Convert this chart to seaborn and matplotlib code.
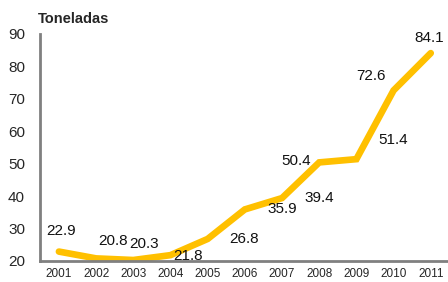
import numpy as np
import pandas as pd
import matplotlib
matplotlib.use('Agg')
import matplotlib.pyplot as plt
import seaborn as sns

# data
years = ['2001', '2002', '2003', '2004', '2005', '2006', '2007', '2008', '2009', '2010', '2011']
toneladas = [22.9, 20.8, 20.3, 21.8, 26.8, 35.9, 39.4, 50.4, 51.4, 72.6, 84.1]
y_ticks = [20, 30, 40, 50, 60, 70, 80, 90]

# label offsets in pixels (as placed in the original)
label_offsets = [(2, 21), (17, 17), (11, 16), (18, -1), (36, 0), (37, 0),
                 (37, 0), (-23, 1), (37, 19), (-23, 14), (-2, 15)]

sns.set_style('white')
plt.rcParams['font.family'] = ['Liberation Sans', 'DejaVu Sans']

df = pd.DataFrame({'pos': np.arange(len(years)), 'val': toneladas})

fig = plt.figure(figsize=(4.48, 2.82), dpi=100)
ax = fig.add_axes([0.09, 0.0745, 0.913, 0.805])

sns.lineplot(data=df, x='pos', y='val', color='#FFC000', linewidth=4.8,
             solid_capstyle='round', solid_joinstyle='miter', ax=ax)

for i, v in enumerate(toneladas):
    dx, dy = label_offsets[i]
    ax.annotate(f'{v:.1f}', (i, v), xytext=(dx, dy), textcoords='offset pixels',
                ha='center', va='center', fontsize=11, color='#111111')

ax.set_xlim(-0.5, len(years) - 0.5)
ax.set_ylim(20, 90)
ax.set_yticks(y_ticks)
ax.set_xticks(range(len(years)))
ax.set_xticklabels(years, fontsize=8.5)
ax.set_xticks(np.arange(-0.5, len(years), 1), minor=True)
ax.tick_params(axis='x', which='major', length=0, pad=5)
ax.tick_params(axis='x', which='minor', length=4, width=1.5, color='#808080', direction='out')
ax.tick_params(axis='y', length=4, width=1.5, color='#808080', direction='out', labelsize=11, pad=7)
ax.set_xlabel('')
ax.set_ylabel('')

for s in ['top', 'right']:
    ax.spines[s].set_visible(False)
for s in ['left', 'bottom']:
    ax.spines[s].set_color('#808080')
    ax.spines[s].set_linewidth(2)

fig.text(0.085, 0.933, 'Toneladas', fontsize=10.5, fontweight='bold', ha='left', va='center')

fig.savefig('out.png', dpi=100)
